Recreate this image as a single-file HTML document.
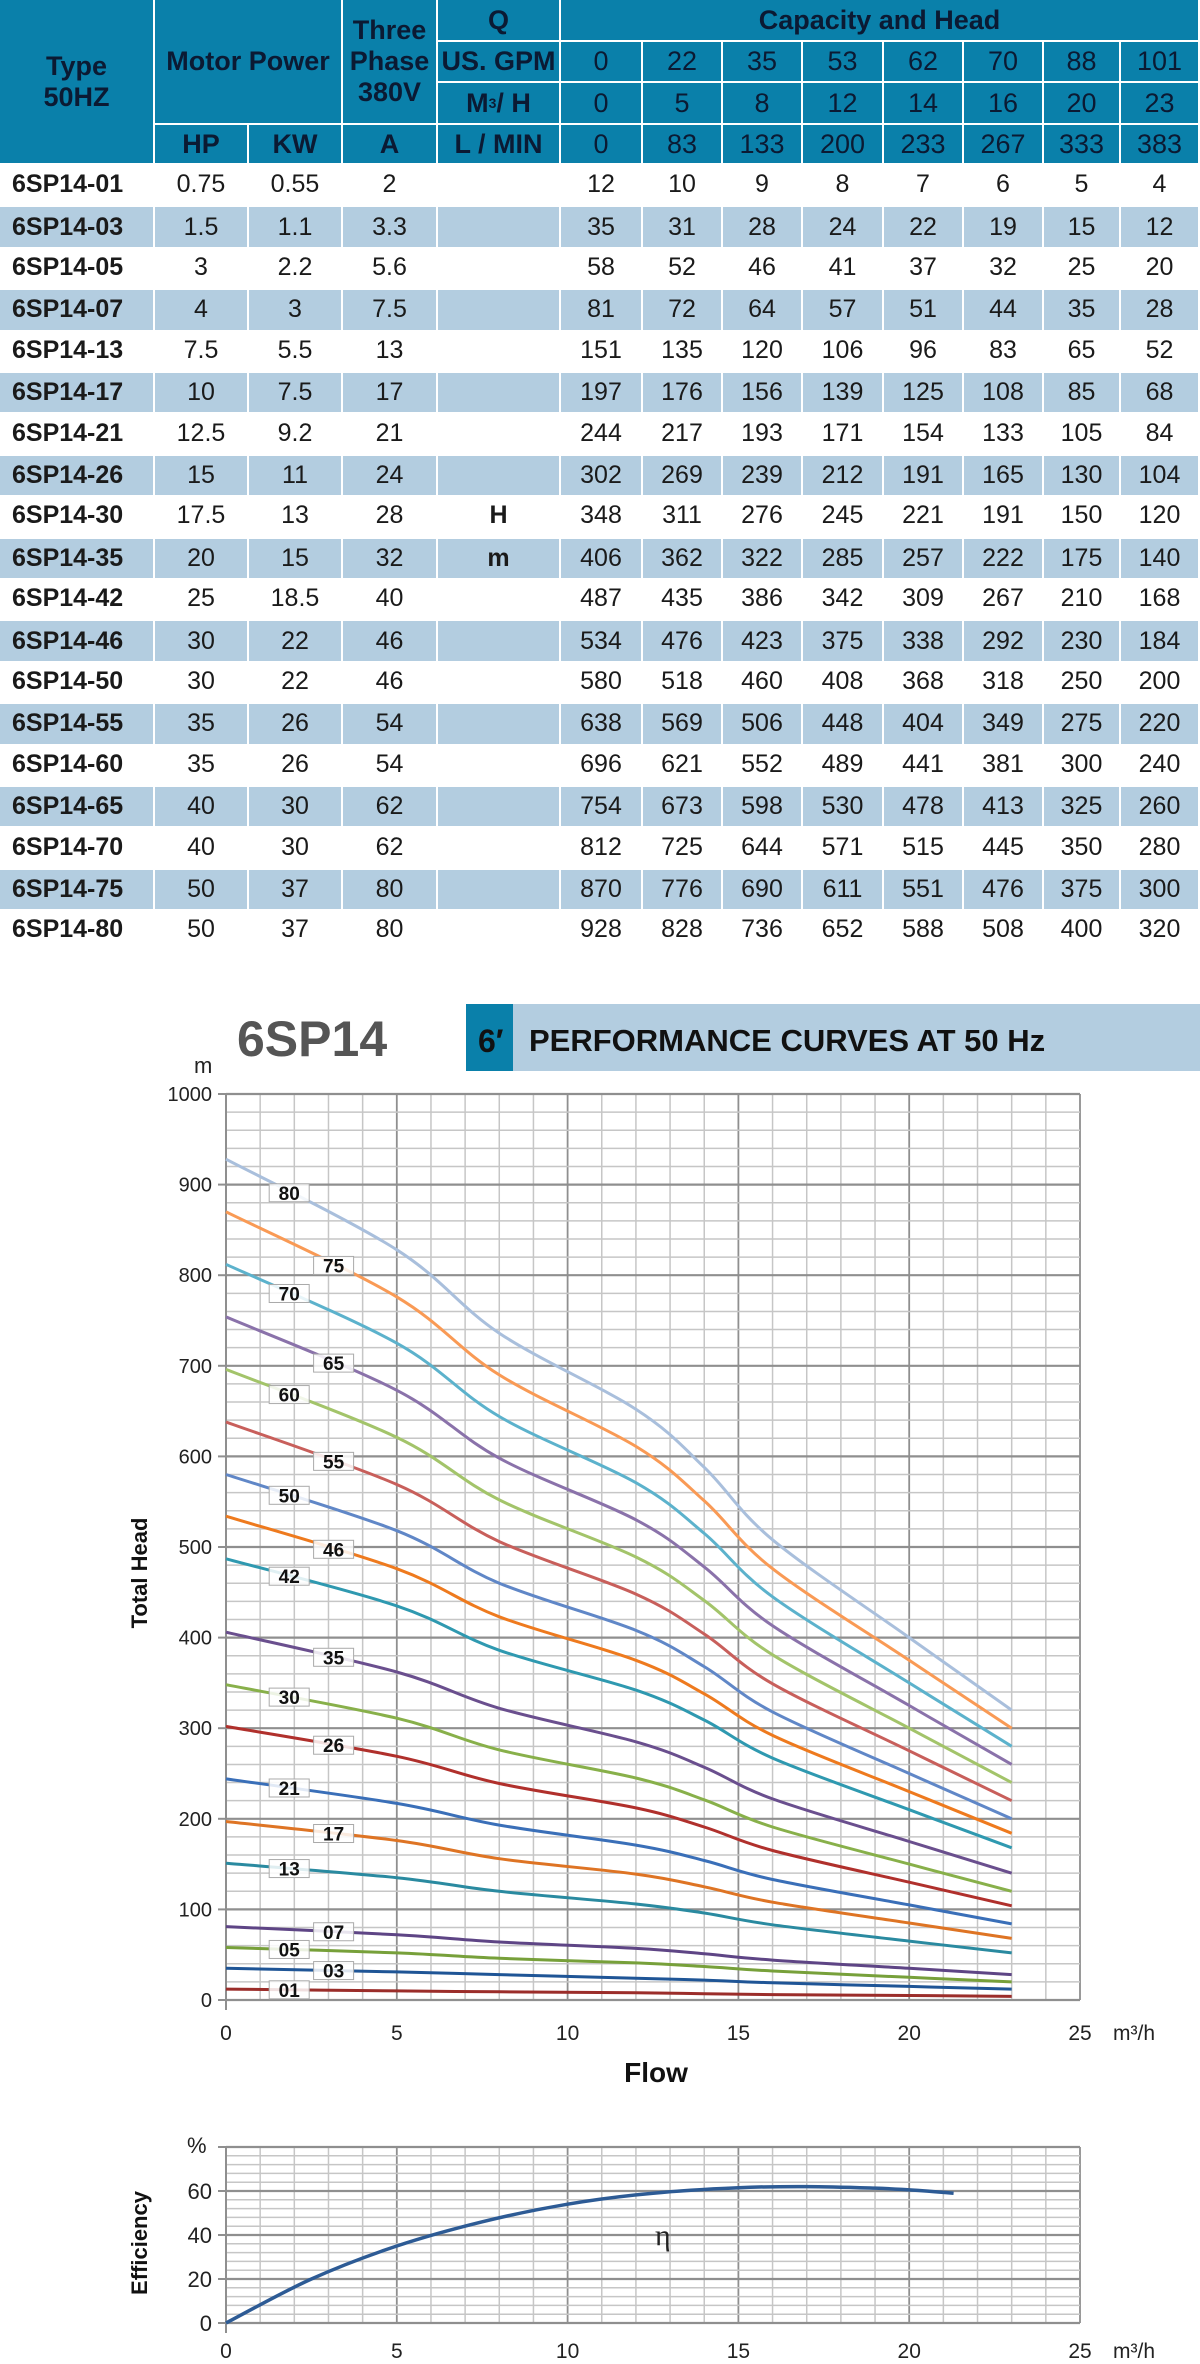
<!DOCTYPE html>
<html><head><meta charset="utf-8">
<style>
body{margin:0;width:1200px;height:2364px;background:#fff;position:relative;overflow:hidden;font-family:"Liberation Sans",sans-serif}
.c{position:absolute;display:flex;align-items:center;justify-content:center;box-sizing:border-box;text-align:center}
.h{background:#0a80aa;color:#0b1a33;font-family:"Liberation Sans Narrow","Liberation Sans",sans-serif;font-size:27px}
.hb{font-weight:bold}
.d{font-size:25px;color:#1a1a1a}
.l{background:#b3cde0}
svg text{font-family:"Liberation Sans Narrow","Liberation Sans",sans-serif}
</style></head><body>
<div id="tbl"></div>
<svg id="ch" width="1200" height="2364" style="position:absolute;left:0;top:0"></svg>
<script>
const gpm=["0","22","35","53","62","70","88","101"];
const m3h=["0","5","8","12","14","16","20","23"];
const lmin=["0","83","133","200","233","267","333","383"];
const flows=[0,5,8,12,14,16,20,23];
const models=["01","03","05","07","13","17","21","26","30","35","42","46","50","55","60","65","70","75","80"];
const hp=["0.75","1.5","3","4","7.5","10","12.5","15","17.5","20","25","30","30","35","35","40","40","50","50"];
const kw=["0.55","1.1","2.2","3","5.5","7.5","9.2","11","13","15","18.5","22","22","26","26","30","30","37","37"];
const amp=["2","3.3","5.6","7.5","13","17","21","24","28","32","40","46","46","54","54","62","62","80","80"];
const heads=[[12,10,9,8,7,6,5,4],[35,31,28,24,22,19,15,12],[58,52,46,41,37,32,25,20],[81,72,64,57,51,44,35,28],[151,135,120,106,96,83,65,52],[197,176,156,139,125,108,85,68],[244,217,193,171,154,133,105,84],[302,269,239,212,191,165,130,104],[348,311,276,245,221,191,150,120],[406,362,322,285,257,222,175,140],[487,435,386,342,309,267,210,168],[534,476,423,375,338,292,230,184],[580,518,460,408,368,318,250,200],[638,569,506,448,404,349,275,220],[696,621,552,489,441,381,300,240],[754,673,598,530,478,413,325,260],[812,725,644,571,515,445,350,280],[870,776,690,611,551,476,375,300],[928,828,736,652,588,508,400,320]];
const colors=["#9b2d2a","#1f5596","#77a03a","#5e4585","#2a8aa0","#de7424","#3a6fb8","#b0302c","#88b04a","#6a4f8e","#2f99b0","#ee7a1e","#6087c7","#c85f5b","#a3c46a","#8a72aa","#5cb2cc","#f99a55","#a9bfdc"];
const effFlow=[0,2.5,5,7.5,10,12.5,15,17,19,20,21.3];
const effVal=[0,20,35,46,54,59,61.5,62,61.3,60.5,59];
const xTicks=["0","5","10","15","20","25"];
const hTicks=["0","100","200","300","400","500","600","700","800","900","1000"];
const eTicks=["0","20","40","60"];

// ---- table ----
const T=document.getElementById('tbl');
const X=[0,155,249,343,438,561,643,723,803,884,964,1044,1121,1200];
function cell(c0,c1,y0,y1,txt,cls,name){
  const d=document.createElement('div');
  d.className='c '+cls;
  d.style.left=X[c0]+'px';d.style.top=y0+'px';
  d.style.width=(X[c1]-X[c0]-2)+'px';d.style.height=(y1-y0-2)+'px';
  d.innerHTML=txt;
  
  
  T.appendChild(d);return d;
}
cell(0,1,0,165,'Type<br>50HZ','h hb','type-header');
cell(1,3,0,125,'Motor Power','h hb','motor-power-header');
cell(3,4,0,125,'Three<br>Phase<br>380V','h hb','three-phase-header');
cell(4,5,0,42,'Q','h hb','q-header');
cell(5,13,0,42,'Capacity and Head','h hb','capacity-head-header');
cell(4,5,42,83,'US. GPM','h hb','gpm-label');
cell(4,5,83,125,'M<sup style="font-size:14px">3</sup>/ H','h hb','m3h-label');
cell(1,2,125,165,'HP','h hb','hp-header');
cell(2,3,125,165,'KW','h hb','kw-header');
cell(3,4,125,165,'A','h hb','amp-header');
cell(4,5,125,165,'L / MIN','h hb','lmin-label');
for(let j=0;j<8;j++){
  cell(5+j,6+j,42,83,gpm[j],'h','gpm-value');
  cell(5+j,6+j,83,125,m3h[j],'h','m3h-value');
  cell(5+j,6+j,125,165,lmin[j],'h','lmin-value');
}
const RH=41.4;
models.forEach((m,i)=>{
  const y0=165+i*RH+ (i%2?1:0), y1=165+(i+1)*RH+ (i%2?1:0);
  const lc=i%2?'d l':'d';
  const t=cell(0,1,y0,y1,'6SP14-'+m,lc,'model-name');
  t.style.justifyContent='flex-start';t.style.paddingLeft='12px';t.style.fontWeight='bold';
  cell(1,2,y0,y1,hp[i],lc,'hp-value');
  cell(2,3,y0,y1,kw[i],lc,'kw-value');
  cell(3,4,y0,y1,amp[i],lc,'amp-value');
  const q=cell(4,5,y0,y1,i==8?'H':(i==9?'m':''),lc,'q-unit');
  q.style.fontWeight='bold';
  for(let j=0;j<8;j++) cell(5+j,6+j,y0,y1,String(heads[i][j]),lc,'head-value');
});

// ---- charts ----
const S=document.getElementById('ch');
const NS='http://www.w3.org/2000/svg';
function el(tag,attrs,parent){const e=document.createElementNS(NS,tag);for(const k in attrs)e.setAttribute(k,attrs[k]);(parent||S).appendChild(e);return e;}
function txt(x,y,s,attrs){const e=el('text',Object.assign({x:x,y:y},attrs||{}));e.textContent=s;return e;}
const X0=226,XW=34.16;
const xs=f=>X0+f*XW;
const yh=h=>2000-h*0.906;
const ye=v=>2323-v*2.2;
function spline(px,py){
  let d='M'+px[0].toFixed(1)+','+py[0].toFixed(1);
  for(let i=0;i<px.length-1;i++){
    const x0=px[Math.max(0,i-1)],y0=py[Math.max(0,i-1)],x1=px[i],y1=py[i],x2=px[i+1],y2=py[i+1],x3=px[Math.min(px.length-1,i+2)],y3=py[Math.min(px.length-1,i+2)];
    const k=1/6;
    d+=' C'+(x1+(x2-x0)*k).toFixed(1)+','+(y1+(y2-y0)*k).toFixed(1)+' '+(x2-(x3-x1)*k).toFixed(1)+','+(y2-(y3-y1)*k).toFixed(1)+' '+x2.toFixed(1)+','+y2.toFixed(1);
  }
  return d;
}
// title
const tt=txt(237,1056,'6SP14',{'font-size':50,'font-weight':'bold',fill:'#555'});

const bn=el('rect',{x:466,y:1004,width:734,height:67,fill:'#b3cde0'});

el('rect',{x:466,y:1004,width:47,height:67,fill:'#0a80aa'});
txt(478,1052,'6′',{'font-size':32,'font-weight':'bold',fill:'#111'});
const bt=txt(529,1051,'PERFORMANCE CURVES AT 50 Hz',{'font-size':31,'font-weight':'bold',fill:'#111'});


function grid(top,bottom,stepPx,majorEvery,name){
  const g=el('g',{});
  for(let i=0;i<=25;i++){const x=xs(i);el('line',{x1:x,y1:top,x2:x,y2:bottom,stroke:i%5?'#c6c6c6':'#8f8f8f','stroke-width':i%5?1.5:1.8},g);}
  let n=Math.round((bottom-top)/stepPx);
  for(let i=0;i<=n;i++){const y=bottom-i*stepPx;el('line',{x1:X0,y1:y,x2:xs(25),y2:y,stroke:i%majorEvery?'#c6c6c6':'#8f8f8f','stroke-width':i%majorEvery?1.5:2.2},g);
    if(i%majorEvery==0)el('line',{x1:X0-8,y1:y,x2:X0,y2:y,stroke:'#8f8f8f','stroke-width':2},g);}
  el('line',{x1:X0,y1:top,x2:X0,y2:bottom+10,stroke:'#8f8f8f','stroke-width':2},g);
}
grid(yh(1000),yh(0),0.906*20,5,'head-grid');
hTicks.forEach((t,i)=>{const e=txt(212,yh(+t)+7,t,{'font-size':20,'text-anchor':'end',fill:'#222'});});
xTicks.forEach(t=>{const e=txt(xs(+t),2040,t,{'font-size':21,'text-anchor':'middle',fill:'#222'});});
txt(1113,2040,'m³/h',{'font-size':21,fill:'#222'});
txt(194,1073,'m',{'font-size':22,fill:'#222'});
const fl=txt(656,2082,'Flow',{'font-size':28,'font-weight':'bold','text-anchor':'middle',fill:'#111'});

const th=txt(0,0,'Total Head',{'font-size':22,'font-weight':'bold','text-anchor':'middle',fill:'#111',transform:'translate(147,1573) rotate(-90)',style:'font-family:"Liberation Sans",sans-serif'});


const px=flows.map(xs);
heads.forEach((hs,i)=>{
  const p=el('path',{d:spline(px,hs.map(yh)),fill:'none',stroke:colors[i],'stroke-width':3});
  
  
});
function interp(hs,f){for(let j=0;j<flows.length-1;j++){if(f<=flows[j+1]){const t=(f-flows[j])/(flows[j+1]-flows[j]);return hs[j]+(hs[j+1]-hs[j])*t;}}return hs[hs.length-1];}
heads.forEach((hs,i)=>{
  const f=i%2?3.15:1.85;
  const cx=xs(f),cy=yh(interp(hs,f));
  const g=el('g',{});
  
  
  el('rect',{x:cx-20,y:cy-9,width:40,height:18,fill:'rgba(255,255,255,0.85)',stroke:'#aaa','stroke-width':1},g);
  const t=el('text',{x:cx,y:cy+7,'font-size':19,'font-weight':'bold','text-anchor':'middle',fill:'#111',style:'font-family:"Liberation Sans",sans-serif'},g);
  t.textContent=models[i];
});

// efficiency
grid(ye(80),ye(0),2.2*4,5,'efficiency-grid');
eTicks.forEach(t=>{const e=txt(212,ye(+t)+8,t,{'font-size':22,'text-anchor':'end',fill:'#222'});});
xTicks.forEach(t=>{const e=txt(xs(+t),2358,t,{'font-size':21,'text-anchor':'middle',fill:'#222'});});
txt(1113,2358,'m³/h',{'font-size':21,fill:'#222'});
txt(187,2153,'%',{'font-size':22,fill:'#222'});
const ef=txt(0,0,'Efficiency',{'font-size':22,'font-weight':'bold','text-anchor':'middle',fill:'#111',transform:'translate(147,2243) rotate(-90)',style:'font-family:"Liberation Sans",sans-serif'});

const ep=el('path',{d:spline(effFlow.map(xs),effVal.map(ye)),fill:'none',stroke:'#2d5b95','stroke-width':3.5});


const eta=txt(655,2245,'η',{'font-size':30,fill:'#222',style:'font-family:"Liberation Serif",serif'});

</script>
</body></html>
